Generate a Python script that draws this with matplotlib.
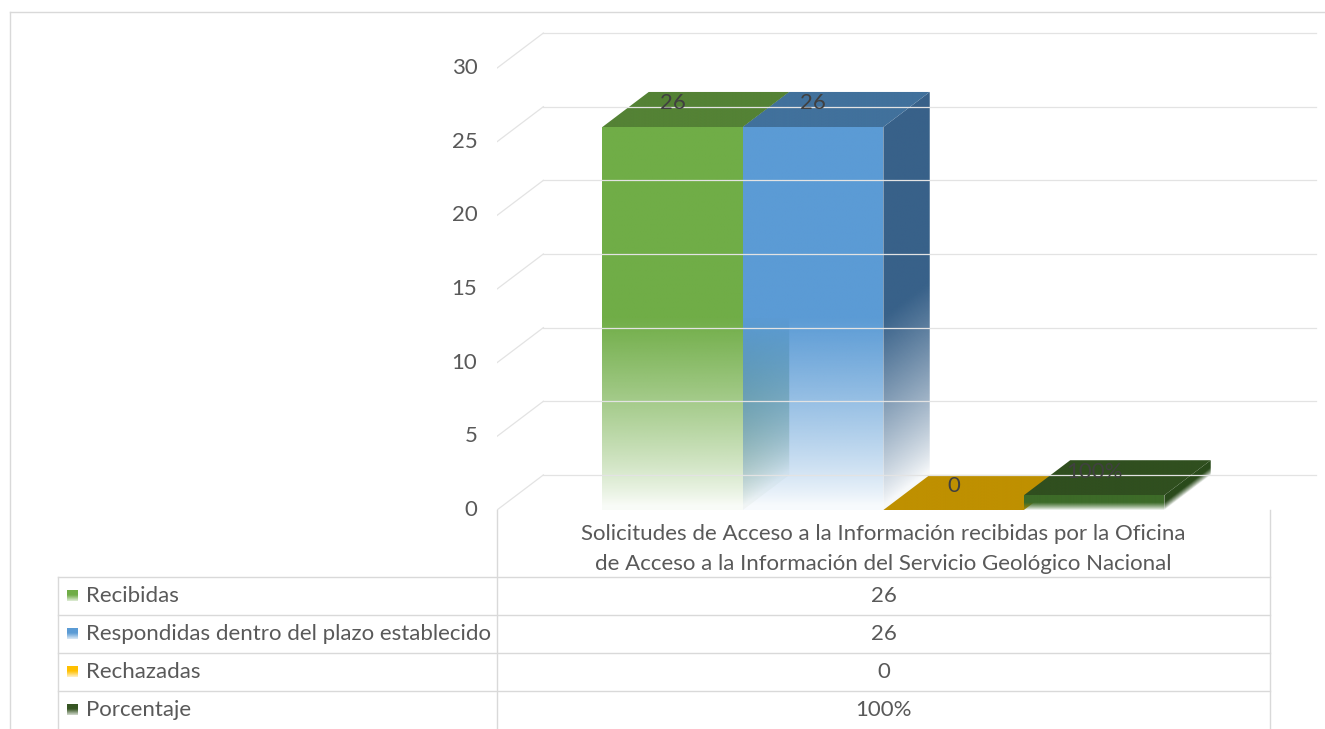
import numpy as np
import matplotlib.pyplot as plt
from matplotlib.patches import Polygon
from matplotlib.colors import to_rgb

# data
series = ["Recibidas", "Respondidas dentro del plazo establecido", "Rechazadas", "Porcentaje"]
values = [26, 26, 0, 1]          # 100% is drawn as 1 on the value axis
value_labels = ["26", "26", "0", "100%"]
category = ("Solicitudes de Acceso a la Información recibidas por la Oficina\n"
            "de Acceso a la Información del Servicio Geológico Nacional")
yticks = [0, 5, 10, 15, 20, 25, 30]

front_cols = ["#70AD47", "#5B9BD5", "#FFC000", "#3D6B28"]
side_cols = ["#4F7D32", "#386189", "#A67C00", "#2A4A1B"]
top_cols = ["#548235", "#41719C", "#BF9000", "#304F1F"]
key_cols = ["#70AD47", "#5B9BD5", "#FFC000", "#375623"]

plt.rcParams['font.family'] = ['Lato', 'DejaVu Sans']
TXT = "#595959"
GRID = "#E3E3E3"
TGRID = "#D9D9D9"
FS = 16

W, H = 1325, 729
fig = plt.figure(figsize=(W / 100, H / 100), dpi=100)

# layout axes in pixels (frame + data table)
lay = fig.add_axes([0, 0, 1, 1])
lay.set_xlim(0, W)
lay.set_ylim(H, 0)
lay.axis('off')

# plot axes: x in bar widths, y in values
px_x, px_y = 140.5, 14.73
ax = fig.add_axes([497 / W, 1 - 510 / H, (1318 - 497) / W, (510 - 15) / H])
xmax = (1318 - 497) / px_x
ymax = (510 - 15) / px_y
ddx, ddy = 0.33, 2.38          # depth offset of the 3D view
gap = 0.75
nser = len(series)


def face(verts, color, v, xref=None, solid=False):
    poly = Polygon(verts, closed=True, facecolor='none', edgecolor='none')
    ax.add_patch(poly)
    xs = [p[0] for p in verts]
    ys = [p[1] for p in verts]
    X, Y = np.meshgrid(np.linspace(min(xs), max(xs), 80),
                       np.linspace(min(ys), max(ys), 300))
    if solid or v <= 0:
        a = np.ones_like(Y)
    else:
        base = 0 if xref is None else np.clip((X - xref) / ddx, 0, 1) * ddy
        t = (Y - base) / v
        a = np.clip(t / 0.5, 0.02, 1) ** 0.8
    img = np.zeros(X.shape + (4,))
    img[..., :3] = to_rgb(color)
    img[..., 3] = a
    im = ax.imshow(img, extent=(min(xs), max(xs), min(ys), max(ys)), origin='lower',
                   aspect='auto', interpolation='bilinear')
    im.set_clip_path(poly)


# wall gridlines
for v in yticks:
    ax.plot([0, ddx], [v, v + ddy], color=GRID, lw=0.9)
    ax.plot([ddx, gap * 2 + nser + ddx], [v + ddy, v + ddy], color=GRID, lw=0.9)
    ax.text(-0.14, v, str(v), ha='right', va='center', fontsize=FS, color=TXT)

# bars
for i, v in enumerate(values):
    x0 = gap + i
    x1 = x0 + 1
    if v > 0:
        face([(x0, 0), (x1, 0), (x1, v), (x0, v)], front_cols[i], v)
        face([(x1, 0), (x1 + ddx, ddy), (x1 + ddx, v + ddy), (x1, v)], side_cols[i], v, xref=x1)
    face([(x0, v), (x1, v), (x1 + ddx, v + ddy), (x0 + ddx, v + ddy)], top_cols[i], v, solid=True)
    ax.text(x0 + 0.5, v + 1.6, value_labels[i], ha='center', va='center',
            fontsize=FS, color="#404040")

ax.set_xlim(0, xmax)
ax.set_ylim(0, ymax)
ax.axis('off')

# chart frame
lay.plot([10, W], [12, 12], color=TGRID, lw=1)
lay.plot([10, 10], [12, H], color=TGRID, lw=1)

# data table
tl, tm, tr = 58, 497, 1270
rows = [577, 615, 653, 691, 729]
lay.plot([tm, tm], [510, H], color=TGRID, lw=1)
lay.plot([tr, tr], [510, H], color=TGRID, lw=1)
lay.plot([tl, tl], [rows[0], H], color=TGRID, lw=1)
for r in rows[:-1]:
    lay.plot([tl, tr], [r, r], color=TGRID, lw=1)

lay.text((tm + tr) / 2, 549, category, ha='center', va='center', fontsize=FS,
         color=TXT, linespacing=1.65)

for i, name in enumerate(series):
    yc = (rows[i] + rows[i + 1]) / 2
    key = np.zeros((20, 1, 4))
    key[..., :3] = to_rgb(key_cols[i])
    key[:, 0, 3] = np.clip(np.linspace(1.6, 0.25, 20), 0, 1)
    lay.imshow(key, extent=(67, 78, yc + 5.5, yc - 5.5), origin='upper',
               aspect='auto', interpolation='bilinear')
    lay.text(86, yc, name, ha='left', va='center', fontsize=FS, color=TXT)
    lay.text((tm + tr) / 2, yc, value_labels[i], ha='center', va='center',
             fontsize=FS, color=TXT)

lay.set_xlim(0, W)
lay.set_ylim(H, 0)

fig.savefig("out.png", dpi=100)
